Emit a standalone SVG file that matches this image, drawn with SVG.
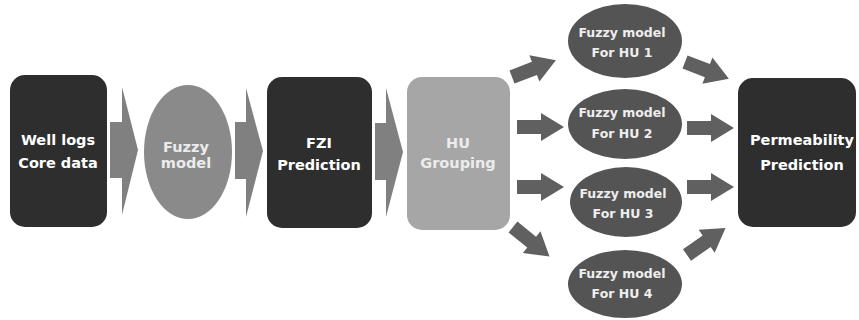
<svg xmlns="http://www.w3.org/2000/svg" width="859" height="320" viewBox="0 0 859 320">
  <style>
    .dark { fill: #2e2e2e; }
    .light { fill: #a6a6a6; }
    .mid { fill: #8a8a8a; }
    .hu { fill: #545454; }
    .big-arrow { fill: #808080; }
    .small-arrow { fill: #606060; }
    .t { font-family: "DejaVu Sans", Verdana, sans-serif; font-weight: bold; text-anchor: middle; }
    .tb { font-size: 14.5px; fill: #ffffff; }
    .ts { font-size: 12.5px; fill: #eeeeee; }
    .pale { fill: #ececec; }
  </style>
  <defs>
    <!-- block arrow pointing along +x, tail at origin -->
    <path id="smallArrow" d="M0,-7 L24,-7 L24,-14 L47,0 L24,14 L24,7 L0,7 Z"/>
  </defs>

  <rect x="0" y="0" width="859" height="320" fill="#ffffff"/>

  <g id="connectors">
    <!-- main chain arrows -->
    <polygon class="big-arrow" points="110,122 122,122 122,87 138,150 122,215 122,178 110,178"/>
    <polygon class="big-arrow" points="235,122 246,122 246,88 263,151 246,217 246,179 235,179"/>
    <polygon class="big-arrow" points="375,123 386,123 386,88 403,152 386,217 386,180 375,180"/>
    <!-- HU Grouping to fuzzy models -->
    <use href="#smallArrow" class="small-arrow" transform="translate(512,77) rotate(-21)"/>
    <use href="#smallArrow" class="small-arrow" transform="translate(517,127)"/>
    <use href="#smallArrow" class="small-arrow" transform="translate(517,187)"/>
    <use href="#smallArrow" class="small-arrow" transform="translate(513,227) rotate(39)"/>
    <!-- fuzzy models to permeability -->
    <use href="#smallArrow" class="small-arrow" transform="translate(685,62) rotate(21)"/>
    <use href="#smallArrow" class="small-arrow" transform="translate(687,128)"/>
    <use href="#smallArrow" class="small-arrow" transform="translate(687,187)"/>
    <use href="#smallArrow" class="small-arrow" transform="translate(687,255) rotate(-35)"/>
  </g>

  <g id="well-logs">
    <rect class="dark" x="10" y="75" width="97" height="152" rx="15"/>
    <text class="t tb" x="58" y="145">Well logs</text>
    <text class="t tb" x="58" y="168">Core data</text>
  </g>

  <g id="fuzzy-model">
    <ellipse class="mid" cx="188" cy="152" rx="44" ry="67"/>
    <text class="t tb pale" x="186" y="152">Fuzzy</text>
    <text class="t tb pale" x="186" y="168">model</text>
  </g>

  <g id="fzi-prediction">
    <rect class="dark" x="267" y="77" width="105" height="151" rx="15"/>
    <text class="t tb" x="319" y="148">FZI</text>
    <text class="t tb" x="319" y="170">Prediction</text>
  </g>

  <g id="hu-grouping">
    <rect class="light" x="407" y="77" width="103" height="153" rx="15"/>
    <text class="t tb pale" x="458" y="148">HU</text>
    <text class="t tb pale" x="458" y="168">Grouping</text>
  </g>

  <g id="fuzzy-hu1">
    <ellipse class="hu" cx="625" cy="41" rx="57" ry="37"/>
    <text class="t ts" x="622" y="37">Fuzzy model</text>
    <text class="t ts" x="622" y="57">For HU 1</text>
  </g>

  <g id="fuzzy-hu2">
    <ellipse class="hu" cx="625" cy="124" rx="57" ry="35"/>
    <text class="t ts" x="622" y="117">Fuzzy model</text>
    <text class="t ts" x="622" y="138">For HU 2</text>
  </g>

  <g id="fuzzy-hu3">
    <ellipse class="hu" cx="626" cy="202" rx="56" ry="35"/>
    <text class="t ts" x="623" y="198">Fuzzy model</text>
    <text class="t ts" x="623" y="218">For HU 3</text>
  </g>

  <g id="fuzzy-hu4">
    <ellipse class="hu" cx="625" cy="284" rx="57" ry="34"/>
    <text class="t ts" x="622" y="278">Fuzzy model</text>
    <text class="t ts" x="622" y="298">For HU 4</text>
  </g>

  <g id="permeability-prediction">
    <rect class="dark" x="738" y="78" width="118" height="149" rx="15"/>
    <text class="t tb" x="802" y="145">Permeability</text>
    <text class="t tb" x="802" y="170">Prediction</text>
  </g>
</svg>
